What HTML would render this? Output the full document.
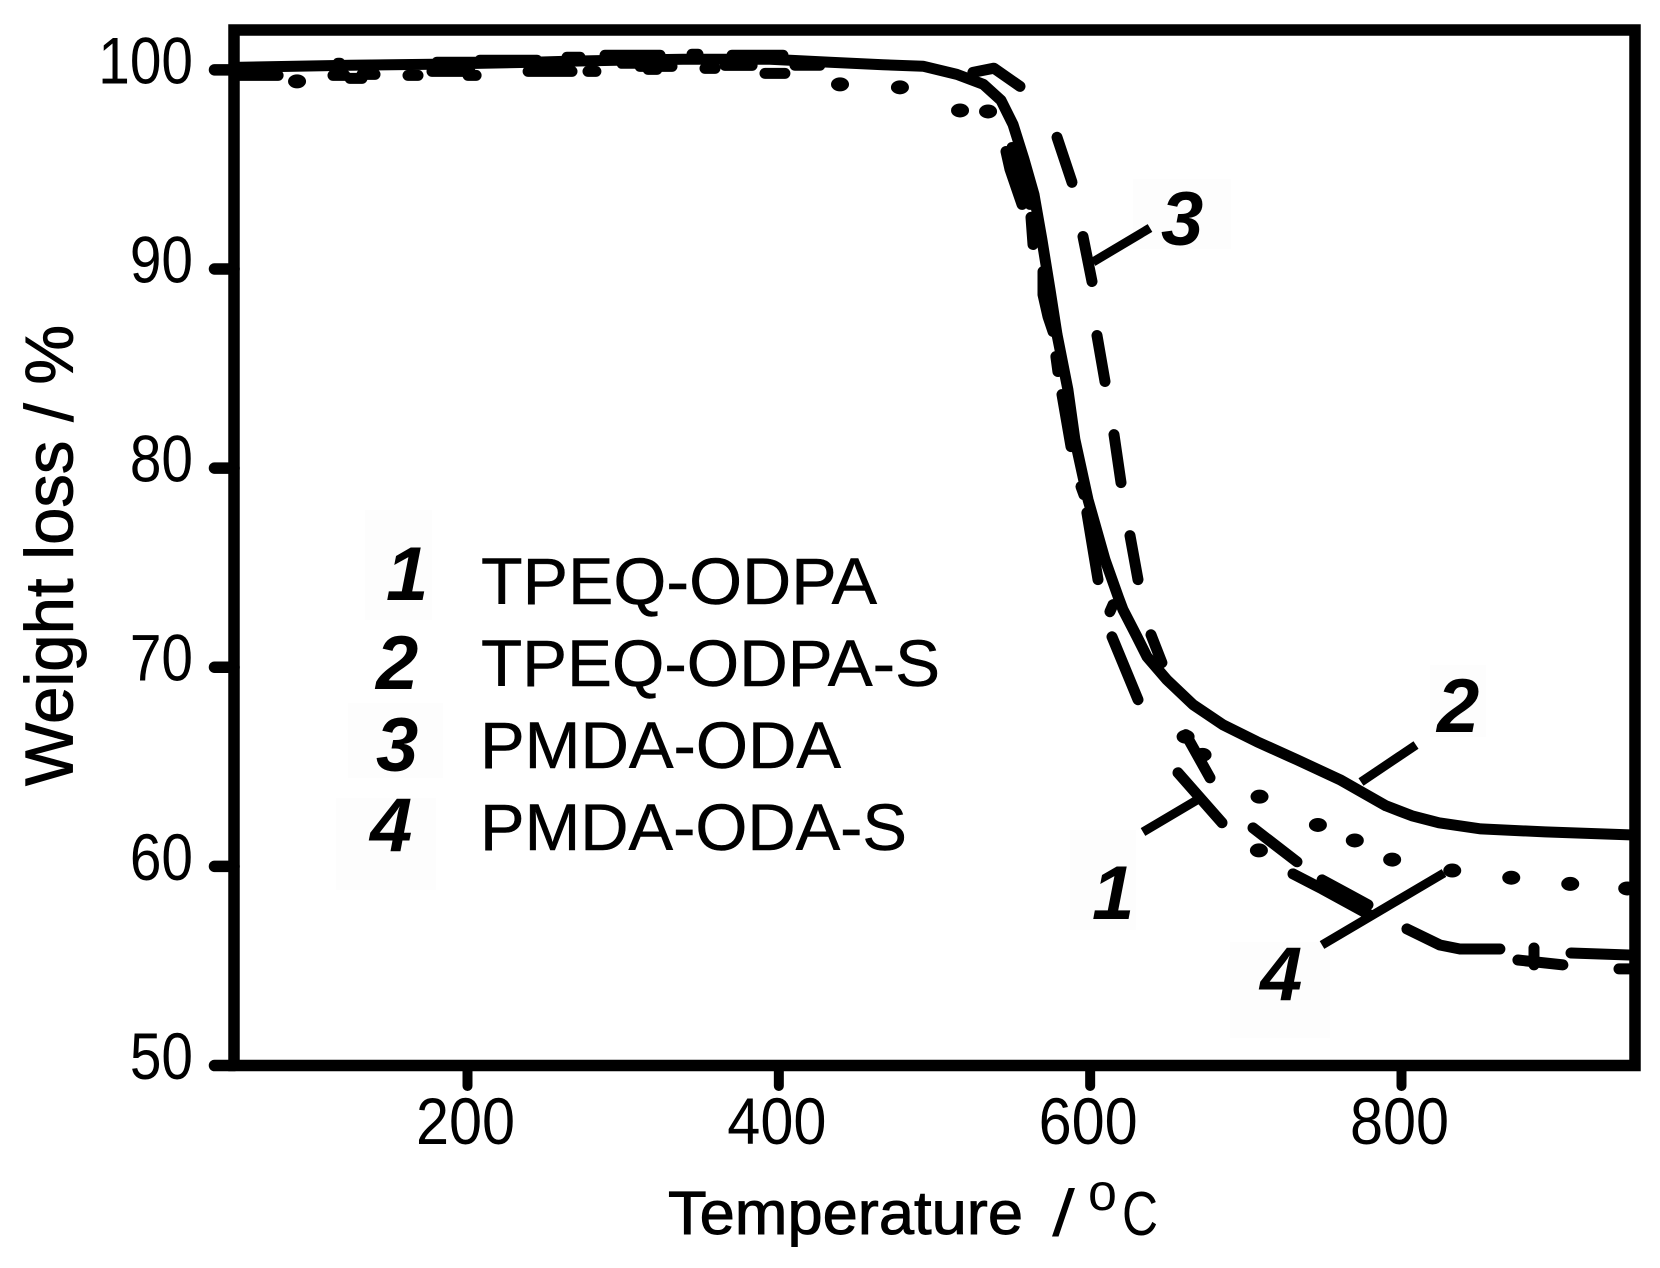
<!DOCTYPE html>
<html lang="en">
<head>
<meta charset="utf-8">
<title>TGA weight loss curves</title>
<style>
html,body{margin:0;padding:0;background:#fff;width:1660px;height:1268px;overflow:hidden}
svg{display:block}
text{font-family:"Liberation Sans",Arial,sans-serif;fill:#000}
.num{font-weight:bold;font-style:italic;font-size:76px}
.leg{font-size:66px;stroke:#000;stroke-width:.5px}
.tick{font-size:66px}
.title{stroke:#000;stroke-width:.9px}
</style>
</head>
<body>
<svg id="chart" width="1660" height="1268" viewBox="0 0 1660 1268" xmlns="http://www.w3.org/2000/svg">
  <g fill="#fdfdfd">
    <rect x="365" y="510" width="67" height="110"/>
    <rect x="348" y="703" width="95" height="75"/>
    <rect x="336" y="798" width="100" height="92"/>
    <rect x="1133" y="179" width="98" height="70"/>
    <rect x="1070" y="830" width="66" height="100"/>
    <rect x="1230" y="942" width="100" height="96"/>
    <rect x="1430" y="665" width="56" height="72"/>
  </g>
  <g id="marks"></g>
  <g id="axes"></g>

  <g>
    <text class="num" x="386" y="600">1</text>
    <text class="leg" x="481" y="604" textLength="396" lengthAdjust="spacingAndGlyphs">TPEQ-ODPA</text>
    <text class="num" x="376" y="689">2</text>
    <text class="leg" x="481" y="686" textLength="459" lengthAdjust="spacingAndGlyphs">TPEQ-ODPA-S</text>
    <text class="num" x="376" y="771">3</text>
    <text class="leg" x="480" y="768" textLength="361" lengthAdjust="spacingAndGlyphs">PMDA-ODA</text>
    <text class="num" x="370" y="851">4</text>
    <text class="leg" x="480" y="850" textLength="427" lengthAdjust="spacingAndGlyphs">PMDA-ODA-S</text>
  </g>

  <g>
    <line x1="1093" y1="262" x2="1150" y2="228" stroke="#000" stroke-width="9"/>
    <text class="num" x="1161" y="245">3</text>
    <line x1="1143" y1="832" x2="1197" y2="800" stroke="#000" stroke-width="9"/>
    <text class="num" x="1092" y="919">1</text>
    <line x1="1361" y1="782" x2="1416" y2="745" stroke="#000" stroke-width="9"/>
    <text class="num" x="1437" y="732">2</text>
    <line x1="1322" y1="945" x2="1444" y2="873" stroke="#000" stroke-width="9"/>
    <text class="num" x="1260" y="1000">4</text>
  </g>

  <text class="title" transform="translate(72.5,786) rotate(-90)" x="0" y="0" font-size="68" textLength="461" lengthAdjust="spacingAndGlyphs">Weight loss / %</text>
  <g>
    <text class="title" x="668" y="1234" font-size="61" textLength="355" lengthAdjust="spacingAndGlyphs">Temperature</text>
    <text x="1052" y="1236" font-size="66" textLength="23" lengthAdjust="spacingAndGlyphs">/</text>
    <text x="1088" y="1210" font-size="52">o</text>
    <text x="1122" y="1235" font-size="62" textLength="36" lengthAdjust="spacingAndGlyphs">C</text>
  </g>
</svg>
<script>
// Axis ranges and tick labels
const xDomain = [50, 950];
const yDomain = [50, 102];
const xTicks = [200, 400, 600, 800];
const yTicks = [50, 60, 70, 80, 90, 100];

// Series 2: TPEQ-ODPA-S (solid)
const solidT = [50,124.5,177.8,210,242,264,296,338.4,394.3,432.9,466.9,492.6,514.4,531.5,542.7,550.4,557.5,563.9,569,574.2,578.7,580.6,585.7,590.2,598.6,609.5,618.2,621.1,630.1,636.5,649.3,666.1,685.3,707.2,732.9,760.5,790,806.7,824.1,851,892.2,946.8];
const solidW = [100.12,100.23,100.28,100.33,100.38,100.43,100.48,100.53,100.53,100.38,100.25,100.18,99.77,99.27,98.47,97.26,95.5,93.74,91.48,88.97,86.71,85.95,83.94,81.43,78.42,75.4,73.49,72.89,71.53,70.53,69.37,68.12,67.11,66.26,65.35,64.35,63.04,62.54,62.19,61.88,61.73,61.58];

// Series 1: TPEQ-ODPA (round dots)
const dotT = [90.5,439.3,477.8,516.4,534.4,661.3,672.2,708.8,708.4,746.3,770,794,832.6,870.5,908.4,945];
const dotW = [99.42,99.27,99.12,97.96,97.91,66.51,65.6,63.5,60.8,62.08,61.3,60.34,59.79,59.43,59.12,58.89];

// Series 3: PMDA-ODA (long dashes, each entry is one dash)
const dashes3T = [[524.7,538.2,554.9],[578.7,588.3],[595.4,601.2],[604.4,609.5],[615.3,619.8],[625.6,630.7],[639.1,646.1],[661.5,677]];
const dashes3W = [[99.87,100.08,99.17],[96.61,94.35],[91.63,89.37],[86.66,84.35],[81.68,79.27],[76.61,74.4],[71.63,70.23],[66.61,64.45]];

// Series 4: PMDA-ODA-S (broken line, noisy plateau then drop)
const dashes4T = [[51.3,78.3],[113.6,121.3],[116.8,118],[124.5,132.2],[132.2,140.6],[161.8,168.2],[177.2,201.6],[200.3,205.5],[180.4,206],[208,244.6],[238.9,267.1],[263.9,272.3],[277.4,282.5],[288.3,323.7],[299.2,310.8],[310.8,331.4],[316,321.7],[344.2,348.1],[352.6,359],[365.4,382.8],[369.9,402.7],[391.1,403.9],[410.4,426.4],[545.9,548.5,556.2],[549.8,561.3],[562,563.3],[569.7,569.7,572.9,576.1],[578,579.3],[581.9,587.7],[594.1,596],[597.9,605],[612.7,614.7],[614,630.7],[656.4,684.7],[704.6,732.9],[730.3,749,779.7],[749,778.5],[803.5,824.7,837.5,863.2],[874.8,903.7],[885.1,885.1],[908.9,946.1],[939.7,948]];
const dashes4W = [[99.72,99.72],[99.72,99.72],[100.33,100.33],[99.57,99.57],[99.77,99.77],[99.72,99.72],[99.92,99.92],[99.72,99.72],[100.38,100.38],[100.48,100.48],[99.92,99.92],[100.63,100.63],[99.92,99.92],[100.73,100.73],[100.33,100.33],[100.17,100.17],[100.02,100.02],[100.78,100.78],[100.07,100.07],[100.22,100.22],[100.73,100.73],[99.82,99.82],[100.23,100.23],[95.9,95,93.24],[96.1,93.24],[92.59,91.23],[89.87,88.71,87.61,86.86],[85.6,84.85],[83.69,81.08],[79.07,78.67],[77.76,74.4],[72.79,73.14],[71.53,68.37],[64.7,62.19],[61.93,60.23],[59.62,58.87,57.56],[59.32,58.07],[56.86,56.05,55.85,55.85],[55.3,55.05],[55.9,55.05],[55.65,55.55],[54.85,54.85]];

const SVGNS = 'http://www.w3.org/2000/svg';
const plot = { left: 234, right: 1635, top: 30, bottom: 1065.5 };
function xScale(t) {
  return plot.left + (t - xDomain[0]) / (xDomain[1] - xDomain[0]) * (plot.right - plot.left);
}
function yScale(w) {
  return plot.bottom - (w - yDomain[0]) / (yDomain[1] - yDomain[0]) * (plot.bottom - plot.top);
}
function pointsOf(ts, ws) {
  return ts.map(function (t, i) { return xScale(t).toFixed(1) + ',' + yScale(ws[i]).toFixed(1); }).join(' ');
}
function make(tag, parent, attrs) {
  const el = document.createElementNS(SVGNS, tag);
  Object.keys(attrs).forEach(function (k) { el.setAttribute(k, attrs[k]); });
  parent.appendChild(el);
  return el;
}
const marks = document.getElementById('marks');
const axes = document.getElementById('axes');
const lineStyle = { fill: 'none', stroke: '#000', 'stroke-linecap': 'round', 'stroke-linejoin': 'round' };

// dots
const dotGroup = make('g', marks, {});


dotT.forEach(function (t, i) {
  const dot = make('ellipse', dotGroup, { cx: xScale(t), cy: yScale(dotW[i]), rx: 9, ry: 7, fill: '#000' });
  
  
});

// solid
const solid = make('polyline', marks, Object.assign({ points: pointsOf(solidT, solidW), 'stroke-width': 11 }, lineStyle));



// dashes series 3
const group3 = make('g', marks, {});


dashes3T.forEach(function (ts, i) {
  const d = make('polyline', group3, Object.assign({ points: pointsOf(ts, dashes3W[i]), 'stroke-width': 11 }, lineStyle));
  
  
});

// dashes series 4
const group4 = make('g', marks, {});


dashes4T.forEach(function (ts, i) {
  const d = make('polyline', group4, Object.assign({ points: pointsOf(ts, dashes4W[i]), 'stroke-width': 11 }, lineStyle));
  
  
});

// frame
const frame = make('rect', axes, { x: plot.left, y: plot.top, width: plot.right - plot.left, height: plot.bottom - plot.top, fill: 'none', stroke: '#000', 'stroke-width': 11.5 });



// y ticks
yTicks.forEach(function (v) {
  const y = yScale(v);
  const tick = make('line', axes, { x1: 214.5, x2: plot.left, y1: y, y2: y, stroke: '#000', 'stroke-width': 11.5, 'stroke-linecap': 'round' });
  
  
  const label = make('text', axes, { class: 'tick', 'text-anchor': 'end', transform: 'translate(193,' + (y + 13.5) + ') scale(0.86,1)' });
  label.textContent = String(v);
  
  
});

// x ticks
xTicks.forEach(function (v) {
  const x = xScale(v);
  const tick = make('line', axes, { x1: x, x2: x, y1: plot.bottom, y2: 1086, stroke: '#000', 'stroke-width': 10, 'stroke-linecap': 'round' });
  
  
  const label = make('text', axes, { class: 'tick', 'text-anchor': 'middle', transform: 'translate(' + (x - 2) + ',1144) scale(0.9,1)' });
  label.textContent = String(v);
  
  
});
</script>
</body>
</html>
